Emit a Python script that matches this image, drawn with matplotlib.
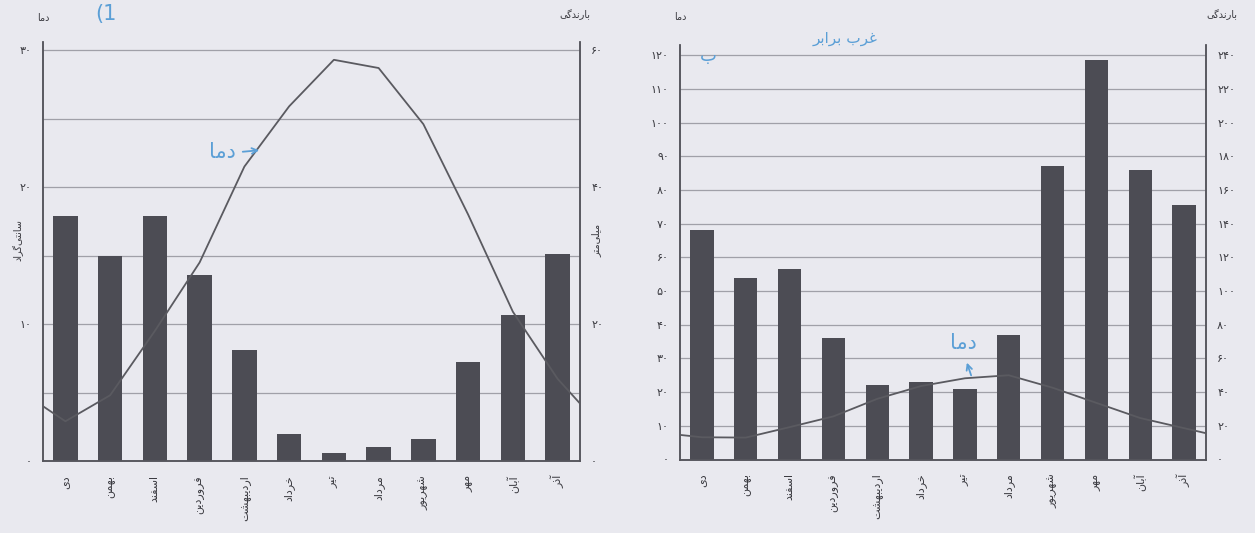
import numpy as np
import matplotlib
matplotlib.use('agg')
import matplotlib.pyplot as plt
from matplotlib.patches import FancyArrowPatch

months = ['دی', 'بهمن', 'اسفند', 'فروردین', 'اردیبهشت', 'خرداد',
          'تیر', 'مرداد', 'شهریور', 'مهر', 'آبان', 'آذر']

# station A (left): temperature (left scale) and rainfall (right scale)
temp_a = [2.9, 4.8, 9.5, 14.5, 21.5, 25.9, 29.3, 28.7, 24.6, 18.0, 10.9, 6.0]
temp_a_edges = [4.0, 4.2]
rain_a = [35.8, 29.9, 35.8, 27.1, 16.2, 4.0, 1.1, 2.1, 3.2, 14.5, 21.3, 30.3]

# station B (right)
temp_b = [6.6, 6.5, 9.6, 12.8, 18.0, 21.8, 24.1, 25.0, 21.3, 16.8, 12.3, 9.3]
temp_b_edges = [7.3, 7.8]
rain_b = [136, 108, 113, 72, 44, 46, 42, 74, 174, 237, 172, 151]

# arabic presentation forms: isolated, final, initial, medial
FORMS = {
    'ا': ('\uFE8D', '\uFE8E', None, None),
    'آ': ('\uFE81', '\uFE82', None, None),
    'د': ('\uFEA9', '\uFEAA', None, None),
    'ذ': ('\uFEAB', '\uFEAC', None, None),
    'ر': ('\uFEAD', '\uFEAE', None, None),
    'ز': ('\uFEAF', '\uFEB0', None, None),
    'و': ('\uFEED', '\uFEEE', None, None),
    'ب': ('\uFE8F', '\uFE90', '\uFE91', '\uFE92'),
    'ت': ('\uFE95', '\uFE96', '\uFE97', '\uFE98'),
    'خ': ('\uFEA5', '\uFEA6', '\uFEA7', '\uFEA8'),
    'س': ('\uFEB1', '\uFEB2', '\uFEB3', '\uFEB4'),
    'ش': ('\uFEB5', '\uFEB6', '\uFEB7', '\uFEB8'),
    'غ': ('\uFECD', '\uFECE', '\uFECF', '\uFED0'),
    'ف': ('\uFED1', '\uFED2', '\uFED3', '\uFED4'),
    'ل': ('\uFEDD', '\uFEDE', '\uFEDF', '\uFEE0'),
    'م': ('\uFEE1', '\uFEE2', '\uFEE3', '\uFEE4'),
    'ن': ('\uFEE5', '\uFEE6', '\uFEE7', '\uFEE8'),
    'ه': ('\uFEE9', '\uFEEA', '\uFEEB', '\uFEEC'),
    'ی': ('\uFBFC', '\uFBFD', '\uFBFE', '\uFBFF'),
    'گ': ('\uFB92', '\uFB93', '\uFB94', '\uFB95'),
}


def shape(word):
    def dual(c):
        return c in FORMS and FORMS[c][2] is not None
    out = []
    for i, c in enumerate(word):
        if c == '\u200c':
            continue
        if c not in FORMS:
            out.append(c)
            continue
        prev_join = i > 0 and dual(word[i - 1])
        next_join = dual(c) and i < len(word) - 1 and word[i + 1] in FORMS
        iso, fin, ini, med = FORMS[c]
        if prev_join and next_join:
            out.append(med)
        elif prev_join:
            out.append(fin)
        elif next_join:
            out.append(ini)
        else:
            out.append(iso)
    return ''.join(reversed(out))


def fa(n):
    return str(n).translate(str.maketrans('0123456789', '۰۱۲۳۴۵۶۷۸۹'))


plt.rcParams['font.family'] = ['DejaVu Sans']
paper = '#e9e9ef'
ink = '#3a3a40'
bar_c = '#4c4c54'
grid_c = '#8e8e96'
blue = '#5b9fd6'

fig = plt.figure(figsize=(12.55, 5.33), dpi=100, facecolor=paper)


def climograph(rect, temps, edges, rain, t_top, t_ticks, r_ticks, grid_step, bar_w):
    ax = fig.add_axes(rect)          # rainfall bars, ticks on the right
    ax.set_facecolor(paper)
    tx = ax.twinx()                   # temperature line, ticks on the left
    x = np.arange(12)
    for g in np.arange(grid_step, r_ticks[-1] + 0.1, grid_step):
        ax.axhline(g, color=grid_c, lw=0.9, alpha=0.8, zorder=0)
    ax.bar(x, rain, width=bar_w, color=bar_c, zorder=2)
    ax.set_xlim(-0.5, 11.5)
    ax.set_ylim(0, t_top * 2)
    ax.yaxis.tick_right()
    ax.set_yticks(r_ticks)
    ax.set_yticklabels([fa(v) for v in r_ticks], fontsize=8, color=ink)
    ax.set_xticks(x)
    ax.set_xticklabels([shape(m) for m in months], rotation=90, va='top',
                       ha='center', fontsize=8, color=ink)
    ax.tick_params(axis='both', length=0)
    ax.tick_params(axis='x', pad=10)
    ax.tick_params(axis='y', pad=8)

    tx.yaxis.tick_left()
    tx.plot(np.r_[-0.5, x, 11.5], np.r_[edges[0], temps, edges[1]],
            color='#5a5a60', lw=1.3, zorder=3)
    tx.set_ylim(0, t_top)
    tx.set_yticks(t_ticks)
    tx.set_yticklabels([fa(v) for v in t_ticks], fontsize=8, color=ink)
    tx.tick_params(axis='y', length=0, pad=8)
    for a in (ax, tx):
        a.spines['top'].set_visible(False)
        for s in ('left', 'right', 'bottom'):
            a.spines[s].set_color('#55555c')
            a.spines[s].set_linewidth(1.1)
    return ax, tx


W, H = 1255, 533


def rect(x0, y0, x1, y1):
    return [x0 / W, 1 - y1 / H, (x1 - x0) / W, (y1 - y0) / H]


def fpt(x, y):
    return (x / W, 1 - y / H)


climograph(rect(43, 42, 580, 461), temp_a, temp_a_edges, rain_a,
           30.6, [0, 10, 20, 30], [0, 20, 40, 60], 10, 0.55)
climograph(rect(680, 45, 1206, 459.5), temp_b, temp_b_edges, rain_b,
           123, list(range(0, 121, 10)), list(range(0, 241, 20)), 20, 0.53)

# axis captions
small = dict(fontsize=7, color=ink, ha='center', va='center')
fig.text(*fpt(43, 18), shape('دما'), **small)
fig.text(*fpt(575, 15), shape('بارندگی'), **small)
fig.text(*fpt(680, 17), shape('دما'), **small)
fig.text(*fpt(1222, 15), shape('بارندگی'), **small)
fig.text(*fpt(18, 240), shape('سانتی\u200cگراد'), rotation=90, **small)
fig.text(*fpt(596, 240), shape('میلی\u200cمتر'), rotation=90, **small)

# pen notes
pen = dict(color=blue, ha='center', va='center')
fig.text(*fpt(106, 14), '(1', fontsize=15, **pen)
fig.text(*fpt(222, 152), shape('دما'), fontsize=15, **pen)
fig.text(*fpt(963, 343), shape('دما'), fontsize=15, **pen)
fig.text(*fpt(708, 56), shape('ب'), fontsize=13, **pen)
fig.text(*fpt(845, 38), shape('غرب برابر'), fontsize=11, **pen)
for p0, p1 in [((240, 152), (262, 150)), ((972, 378), (966, 360))]:
    fig.add_artist(FancyArrowPatch(fpt(*p0), fpt(*p1), transform=fig.transFigure,
                                   arrowstyle='->', mutation_scale=10,
                                   color=blue, lw=1.3))

fig.savefig('out.png', dpi=100, facecolor=paper)
